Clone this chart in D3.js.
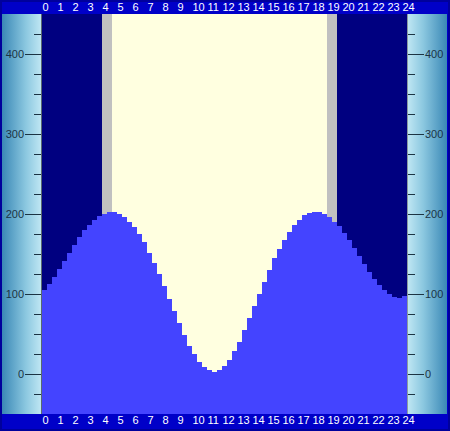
<!DOCTYPE html>
<html>
<head>
<meta charset="utf-8">
<script src="https://cdn.jsdelivr.net/npm/d3@7"></script>
<style>
  body { margin: 0; background: #0000c8; }
  svg { display: block; }
</style>
</head>
<body>
<div id="wrapper"></div>
<script>
// tide height every 20 minutes, starting at 00:00
const tide = [105, 112, 121, 131, 141, 151, 161, 171, 180, 186, 192, 197,
  200, 202, 202, 200, 196, 190, 184, 175, 165, 151, 139, 125,
  110, 94, 79, 64, 49, 35, 25, 15, 9, 5, 2, 5,
  10, 17, 29, 40, 55, 70, 85, 100, 115, 130, 145, 156,
  167, 177, 186, 192, 199, 201, 202, 202, 200, 196, 190, 185,
  176, 167, 157, 147, 137, 127, 119, 111, 105, 100, 96, 95, 97]
const hours = d3.range(0, 25)
const majorTicks = [0, 100, 200, 300, 400]
const minorTicks = [-25, 25, 50, 75, 125, 150, 175, 225, 250, 275, 325, 350, 375, 425]
// twilight and daylight in hours
const twilight = [[4, 4 + 2 / 3], [19, 19 + 2 / 3]]
const daylight = [[4 + 2 / 3, 19]]

let dimensions = {
  width: 450,
  height: 431,
  margin: { top: 14, right: 43, bottom: 17, left: 42 }
}
dimensions.boundedWidth = dimensions.width - dimensions.margin.left - dimensions.margin.right
dimensions.boundedHeight = dimensions.height - dimensions.margin.top - dimensions.margin.bottom

const svg = d3.select("#wrapper")
  .append("svg")
  .attr("width", dimensions.width)
  .attr("height", dimensions.height)
  .attr("shape-rendering", "crispEdges")

const step = 1 / 3
const xScaler = d3.scaleLinear()
  .domain([0, tide.length * step])
  .range([dimensions.margin.left, dimensions.margin.left + dimensions.boundedWidth])
const yScaler = d3.scaleLinear()
  .domain([-50, 450])
  .range([dimensions.margin.top + dimensions.boundedHeight, dimensions.margin.top])

// frame
svg.append("rect")
  .attr("width", dimensions.width).attr("height", dimensions.height)
  .attr("fill", "#0000c8")
svg.append("rect")
  .attr("x", 1).attr("y", 1)
  .attr("width", dimensions.width - 2).attr("height", dimensions.height - 2)
  .attr("fill", "none").attr("stroke", "#00009c").attr("stroke-width", 2)

const defs = svg.append("defs")
function addGradient(id, flip) {
  const g = defs.append("linearGradient").attr("id", id)
    .attr("x1", flip ? "100%" : "0%").attr("x2", flip ? "0%" : "100%")
  g.append("stop").attr("offset", "0%").attr("stop-color", "#3a88b6")
  g.append("stop").attr("offset", "60%").attr("stop-color", "#8cc8e0")
  g.append("stop").attr("offset", "100%").attr("stop-color", "#c2e8f4")
}
addGradient("panelLeft", false)
addGradient("panelRight", true)

const [yTop, yBottom] = [yScaler(450), yScaler(-50)]
svg.append("rect")
  .attr("x", 2).attr("y", yTop)
  .attr("width", dimensions.margin.left - 2).attr("height", yBottom - yTop)
  .attr("fill", "url(#panelLeft)")
svg.append("rect")
  .attr("x", xScaler.range()[1]).attr("y", yTop)
  .attr("width", dimensions.width - 3 - xScaler.range()[1]).attr("height", yBottom - yTop)
  .attr("fill", "url(#panelRight)")

// plot background
const bounds = svg.append("g")
bounds.append("rect")
  .attr("x", xScaler.range()[0]).attr("y", yTop)
  .attr("width", dimensions.boundedWidth).attr("height", yBottom - yTop)
  .attr("fill", "#000080")
bounds.selectAll(".twilight")
  .data(twilight)
  .join("rect")
  .attr("class", "twilight")
  .attr("x", d => xScaler(d[0]))
  .attr("width", d => xScaler(d[1]) - xScaler(d[0]))
  .attr("y", yTop).attr("height", yBottom - yTop)
  .attr("fill", "#c0c0c0")
bounds.selectAll(".day")
  .data(daylight)
  .join("rect")
  .attr("class", "day")
  .attr("x", d => xScaler(d[0]))
  .attr("width", d => xScaler(d[1]) - xScaler(d[0]))
  .attr("y", yTop).attr("height", yBottom - yTop)
  .attr("fill", "#ffffe0")

bounds.selectAll(".bar")
  .data(tide)
  .join("rect")
  .attr("class", "bar")
  .attr("x", (d, i) => xScaler(i * step))
  .attr("width", (d, i) => xScaler((i + 1) * step) - xScaler(i * step))
  .attr("y", d => yScaler(d))
  .attr("height", d => yBottom - yScaler(d))
  .attr("fill", "#4444ff")

// panel edges
svg.append("line")
  .attr("x1", xScaler.range()[0] - 0.5).attr("x2", xScaler.range()[0] - 0.5)
  .attr("y1", yTop).attr("y2", yBottom)
  .attr("stroke", "#5a6a70")
svg.append("line")
  .attr("x1", xScaler.range()[1] + 0.5).attr("x2", xScaler.range()[1] + 0.5)
  .attr("y1", yTop).attr("y2", yBottom)
  .attr("stroke", "#8a9aa0")

// hour axes
function hourAxis(axisGen, y) {
  const g = svg.append("g")
    .attr("transform", `translate(0, ${y})`)
    .call(axisGen.tickValues(hours).tickSize(0).tickPadding(0).tickFormat(d3.format("d")))
  g.select(".domain").remove()
  g.selectAll("text")
    .attr("text-anchor", "start")
    .attr("dy", 0)
    .attr("y", 0)
    .attr("fill", "#ffffff")
    .attr("font-family", "Liberation Sans, Arial, sans-serif")
    .attr("font-size", "11px")
}
hourAxis(d3.axisTop(xScaler), 11)
hourAxis(d3.axisBottom(xScaler), 424)

// height axes
function heightAxis(makeAxis, x) {
  const minor = svg.append("g")
    .attr("transform", `translate(${x}, 0)`)
    .call(makeAxis(yScaler).tickValues(minorTicks).tickSize(7).tickFormat(""))
  const major = svg.append("g")
    .attr("transform", `translate(${x}, 0)`)
    .call(makeAxis(yScaler).tickValues(majorTicks).tickSize(16).tickPadding(1))
  for (const g of [minor, major]) {
    g.select(".domain").remove()
    g.selectAll("line").attr("stroke", "#1c3444")
    g.selectAll("text")
      .attr("fill", "#1c3444")
      .attr("font-family", "Liberation Sans, Arial, sans-serif")
      .attr("font-size", "11px")
  }
}
heightAxis(d3.axisLeft, xScaler.range()[0] - 1)
heightAxis(d3.axisRight, xScaler.range()[1] + 1)
</script>
</body>
</html>
